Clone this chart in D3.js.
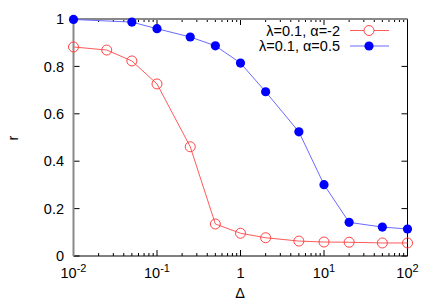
<!DOCTYPE html>
<html><head><meta charset="utf-8">
<script src="https://cdn.jsdelivr.net/npm/d3@7"></script>
<style>body{margin:0;background:#fff}svg{display:block}text{font-family:"Liberation Sans",Arial,sans-serif;fill:#000}</style>
</head><body>
<script>
const redX = [0.01, 0.025, 0.05, 0.1, 0.25, 0.5, 1, 2, 5, 10, 20, 50, 100];
const redY = [0.882, 0.869, 0.823, 0.726, 0.461, 0.135, 0.096, 0.077, 0.063, 0.059, 0.058, 0.055, 0.055];
const blueX = [0.01, 0.05, 0.1, 0.25, 0.5, 1, 2, 5, 10, 20, 50, 100];
const blueY = [0.998, 0.987, 0.959, 0.924, 0.887, 0.814, 0.693, 0.524, 0.301, 0.142, 0.122, 0.114];
const seriesNames = ["λ=0.1, α=-2", "λ=0.1, α=0.5"];
const yTicks = [0, 0.2, 0.4, 0.6, 0.8, 1];
const yTickLabels = ["0", "0.2", "0.4", "0.6", "0.8", "1"];
const xTicks = [0.01, 0.1, 1, 10, 100];
const xTickBase = ["10", "10", "1", "10", "10"];
const xTickExp = ["-2", "-1", "", "1", "2"];

const W = 435, H = 305;
const L = 73.5, R = 407.5, T = 19, B = 256;
const FS = 14.5;
const svg = d3.select("body").append("svg").attr("width", W).attr("height", H);
const x = d3.scaleLog().domain([0.01, 100]).range([L, R]);
const y = d3.scaleLinear().domain([0, 1]).range([B, T]);

// ticks
const g = svg.append("g");
const minor = [];
for (let e = -2; e < 2; e++) for (let k = 2; k <= 9; k++) minor.push(k * Math.pow(10, e));
minor.forEach(v => {
  g.append("line").attr("x1", x(v)).attr("x2", x(v)).attr("y1", B).attr("y2", B - 3).attr("stroke", "#000");
  g.append("line").attr("x1", x(v)).attr("x2", x(v)).attr("y1", T).attr("y2", T + 3).attr("stroke", "#000");
});
xTicks.forEach(v => {
  g.append("line").attr("x1", x(v)).attr("x2", x(v)).attr("y1", B).attr("y2", B - 6).attr("stroke", "#000");
  g.append("line").attr("x1", x(v)).attr("x2", x(v)).attr("y1", T).attr("y2", T + 6).attr("stroke", "#000");
});
yTicks.forEach(v => {
  g.append("line").attr("x1", L).attr("x2", L + 6).attr("y1", y(v)).attr("y2", y(v)).attr("stroke", "#000");
  g.append("line").attr("x1", R).attr("x2", R - 6).attr("y1", y(v)).attr("y2", y(v)).attr("stroke", "#000");
});
// border
g.append("line").attr("x1", L).attr("x2", R).attr("y1", B).attr("y2", B).attr("stroke", "#000");
g.append("line").attr("x1", R).attr("x2", R).attr("y1", T).attr("y2", B).attr("stroke", "#000");
g.append("line").attr("x1", L).attr("x2", R).attr("y1", T).attr("y2", T).attr("stroke", "#888").attr("stroke-width", 2);
g.append("line").attr("x1", L).attr("x2", L).attr("y1", T).attr("y2", B).attr("stroke", "#888").attr("stroke-width", 2);

// tick labels
yTicks.forEach((v, i) => {
  svg.append("text").attr("x", 64).attr("y", y(v)).attr("dy", "0.36em")
    .attr("text-anchor", "end").attr("font-size", FS).text(yTickLabels[i]);
});
xTicks.forEach((v, i) => {
  const t = svg.append("text").attr("x", x(v)).attr("y", 278).attr("text-anchor", "middle").attr("font-size", FS);
  t.append("tspan").text(xTickBase[i]);
  if (xTickExp[i]) t.append("tspan").attr("dy", -6).attr("font-size", 11).text(xTickExp[i]);
});
svg.append("text").attr("x", 240).attr("y", 298).attr("text-anchor", "middle").attr("font-size", FS).text("Δ");
svg.append("text").attr("transform", "translate(18,138) rotate(-90)").attr("text-anchor", "middle").attr("font-size", FS).text("r");

// series
const line = d3.line().x(d => x(d[0])).y(d => y(d[1]));
const red = redX.map((v, i) => [v, redY[i]]);
const blue = blueX.map((v, i) => [v, blueY[i]]);
svg.append("path").datum(red).attr("d", line).attr("fill", "none").attr("stroke", "#ff5a5a").attr("stroke-width", 1);
svg.append("path").datum(blue).attr("d", line).attr("fill", "none").attr("stroke", "#6a6aff").attr("stroke-width", 1);
svg.selectAll("circle.r").data(red).enter().append("circle").attr("cx", d => x(d[0])).attr("cy", d => y(d[1]))
  .attr("r", 5).attr("fill", "none").attr("stroke", "#ff4444").attr("stroke-width", 1);
svg.selectAll("circle.b").data(blue).enter().append("circle").attr("cx", d => x(d[0])).attr("cy", d => y(d[1]))
  .attr("r", 4.6).attr("fill", "#0000ff");

// legend
const ly = [30.5, 46];
seriesNames.forEach((n, i) => {
  svg.append("text").attr("x", 340).attr("y", ly[i]).attr("dy", "0.36em").attr("text-anchor", "end").attr("font-size", 14.5).text(n);
  svg.append("line").attr("x1", 350).attr("x2", 389).attr("y1", ly[i]).attr("y2", ly[i])
    .attr("stroke", i === 0 ? "#ff5a5a" : "#6a6aff");
  if (i === 0) svg.append("circle").attr("cx", 369).attr("cy", ly[i]).attr("r", 5).attr("fill", "#fff").attr("stroke", "#ff4444");
  else svg.append("circle").attr("cx", 369).attr("cy", ly[i]).attr("r", 4.6).attr("fill", "#0000ff");
});
</script>
</body></html>
